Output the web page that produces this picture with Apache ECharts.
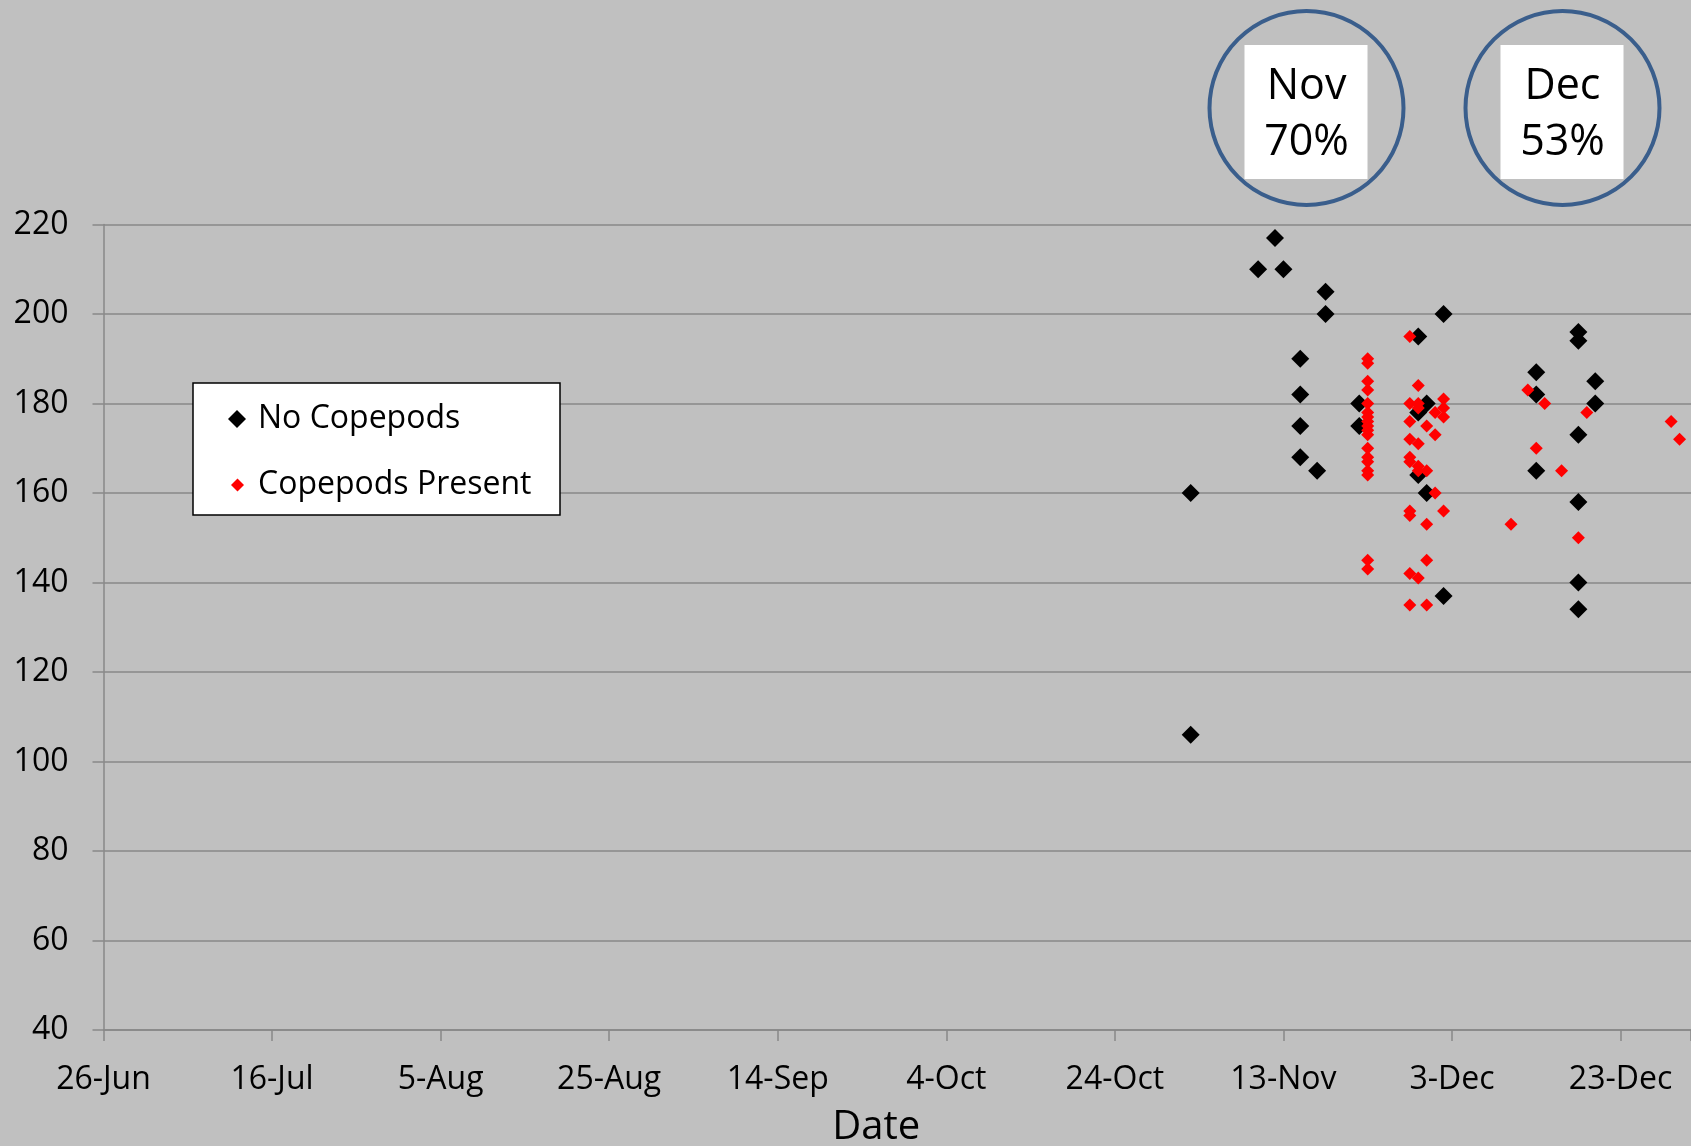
<!DOCTYPE html>
<html>
<head>
<meta charset="utf-8">
<script src="https://cdn.jsdelivr.net/npm/echarts@6/dist/echarts.min.js"></script>
<style>
html,body{margin:0;padding:0;background:#C0C0C0;}
#chart{width:1691px;height:1146px;}
</style>
</head>
<body>
<div id="chart"></div>
<script>
// ---- data ----
const seriesNames = ['No Copepods', 'Copepods Present'];

const noCopDates = ['2-Nov','2-Nov','10-Nov','12-Nov','13-Nov','15-Nov','15-Nov','15-Nov','15-Nov','17-Nov',
  '18-Nov','18-Nov','22-Nov','22-Nov','29-Nov','29-Nov','29-Nov','30-Nov','30-Nov','2-Dec','2-Dec',
  '13-Dec','13-Dec','13-Dec','18-Dec','18-Dec','18-Dec','18-Dec','18-Dec','18-Dec','20-Dec','20-Dec'];
const noCopValues = [160,106,210,217,210,190,182,175,168,165,
  205,200,180,175,195,178,164,180,160,200,137,
  187,182,165,196,194,173,158,140,134,185,180];

const copDates = ['23-Nov','23-Nov','23-Nov','23-Nov','23-Nov','23-Nov','23-Nov','23-Nov','23-Nov','23-Nov',
  '23-Nov','23-Nov','23-Nov','23-Nov','23-Nov','23-Nov','23-Nov','23-Nov',
  '28-Nov','28-Nov','28-Nov','28-Nov','28-Nov','28-Nov','28-Nov','28-Nov','28-Nov','28-Nov',
  '29-Nov','29-Nov','29-Nov','29-Nov','29-Nov','29-Nov','29-Nov',
  '30-Nov','30-Nov','30-Nov','30-Nov','30-Nov',
  '1-Dec','1-Dec','1-Dec',
  '2-Dec','2-Dec','2-Dec','2-Dec',
  '10-Dec','12-Dec','13-Dec','14-Dec','16-Dec','18-Dec','19-Dec','29-Dec','30-Dec'];
const copValues = [190,189,185,183,180,178,177,176,175,174,
  173,170,168,167,165,164,145,143,
  195,180,176,172,168,167,156,155,142,135,
  184,180,179,171,166,165,141,
  175,165,153,145,135,
  178,173,160,
  181,179,177,156,
  153,183,170,180,165,150,178,176,172];

const xTickLabels = ['26-Jun','16-Jul','5-Aug','25-Aug','14-Sep','4-Oct','24-Oct','13-Nov','3-Dec','23-Dec'];
const yTicks = [40,60,80,100,120,140,160,180,200,220];
const notes = [{month:'Nov', pct:'70%'}, {month:'Dec', pct:'53%'}];

// ---- helpers ----
const MONTHS = {Jan:0,Feb:1,Mar:2,Apr:3,May:4,Jun:5,Jul:6,Aug:7,Sep:8,Oct:9,Nov:10,Dec:11};
const BASE = Date.UTC(2012, 5, 26);
function dayOffset(s) {
  const [d, m] = s.split('-');
  return (Date.UTC(2012, MONTHS[m], +d) - BASE) / 864e5;
}
function toPairs(dates, vals) { return dates.map((d, i) => [dayOffset(d), vals[i]]); }

const FONT = 'Open Sans';
const GRID_COLOR = '#888888';

const chart = echarts.init(document.getElementById('chart'), null, {renderer: 'canvas'});

const legendBox = {left: 193, top: 383, width: 367, height: 132};

const graphics = [
  {type: 'rect', shape: {x: legendBox.left, y: legendBox.top, width: legendBox.width, height: legendBox.height},
   style: {fill: '#ffffff', stroke: '#000000', lineWidth: 1.5}, z: 1}
];
const noteCenters = [1306.5, 1562.5];
notes.forEach((n, i) => {
  const cx = noteCenters[i];
  graphics.push({type: 'circle', shape: {cx: cx, cy: 108, r: 97},
    style: {fill: 'none', stroke: '#3A5E8C', lineWidth: 4}, z: 1});
  graphics.push({type: 'rect', shape: {x: cx - 62, y: 45, width: 123, height: 134},
    style: {fill: '#ffffff'}, z: 2});
  graphics.push({type: 'text', x: cx, y: 87, z: 3,
    style: {text: n.month, font: '43px "Open Sans"', fill: '#000', align: 'center', verticalAlign: 'middle'}});
  graphics.push({type: 'text', x: cx, y: 143, z: 3,
    style: {text: n.pct, font: '43px "Open Sans"', fill: '#000', align: 'center', verticalAlign: 'middle'}});
});

const option = {
  backgroundColor: '#C0C0C0',
  animation: false,
  textStyle: {fontFamily: FONT},
  grid: {left: 103.5, top: 224.5, right: 0, bottom: 116, containLabel: false, outerBoundsMode: 'none'},
  legend: [
    {data: [seriesNames[0]], left: 228, top: 403, orient: 'vertical', padding: 0, selectedMode: false,
     itemWidth: 18, itemHeight: 18, icon: 'diamond', z: 5,
     textStyle: {fontFamily: FONT, fontSize: 32, color: '#000', lineHeight: 32, padding: [0, 0, 0, 7]}},
    {data: [seriesNames[1]], left: 231, top: 469, orient: 'vertical', padding: 0, selectedMode: false,
     itemWidth: 13, itemHeight: 13, icon: 'diamond', z: 5,
     textStyle: {fontFamily: FONT, fontSize: 32, color: '#000', lineHeight: 32, padding: [0, 0, 0, 9]}}
  ],
  xAxis: {
    type: 'value', min: 0, max: 188.36, interval: 20,
    name: 'Date', nameLocation: 'middle', nameGap: 78,
    nameTextStyle: {fontFamily: FONT, fontSize: 40, color: '#000', padding: [0, 42, 0, 0]},
    axisLine: {show: true, lineStyle: {color: GRID_COLOR, width: 1.5}},
    axisTick: {show: true, inside: false, length: 11, lineStyle: {color: GRID_COLOR, width: 1.5}},
    axisLabel: {fontFamily: FONT, fontSize: 32, color: '#000', margin: 34,
      formatter: v => {
        const k = Math.round(v / 20);
        return (Math.abs(v - k * 20) < 1e-6 && xTickLabels[k]) ? xTickLabels[k] : '';
      }},
    splitLine: {show: false}
  },
  yAxis: {
    type: 'value', min: yTicks[0], max: yTicks[yTicks.length - 1], interval: 20,
    axisLine: {show: true, lineStyle: {color: GRID_COLOR, width: 1.5}},
    axisTick: {show: true, inside: false, length: 11, lineStyle: {color: GRID_COLOR, width: 1.5}},
    axisLabel: {fontFamily: FONT, fontSize: 32, color: '#000', margin: 35},
    splitLine: {show: true, lineStyle: {color: GRID_COLOR, width: 1.5}}
  },
  series: [
    {name: seriesNames[0], type: 'scatter', symbol: 'diamond', symbolSize: 18,
     itemStyle: {color: '#000000', opacity: 1}, data: toPairs(noCopDates, noCopValues), z: 3},
    {name: seriesNames[1], type: 'scatter', symbol: 'diamond', symbolSize: 13,
     itemStyle: {color: '#FF0000', opacity: 1}, data: toPairs(copDates, copValues), z: 4}
  ],
  graphic: graphics
};
chart.setOption(option);
</script>
</body>
</html>
